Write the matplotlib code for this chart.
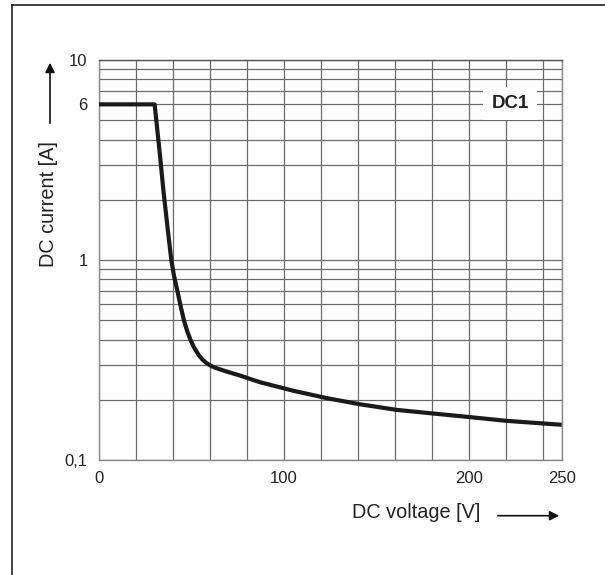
import matplotlib
matplotlib.use("Agg")
import matplotlib.pyplot as plt
from matplotlib.lines import Line2D
import numpy as np

plt.rcParams['font.family'] = ['Liberation Sans', 'DejaVu Sans']

# Data
voltage = [0, 30.2, 33, 35, 37, 39.2, 40.7, 42.5, 44.2, 46, 47.8, 49.5, 51.5, 54, 56, 58,
           60.5, 63, 69, 76, 87, 105, 123, 141, 161, 180, 200, 220, 250]
current = [6, 6, 3.4, 2.2, 1.5, 1.0, 0.83, 0.7, 0.59, 0.5, 0.44, 0.4, 0.365, 0.335, 0.318, 0.306,
           0.296, 0.289, 0.277, 0.265, 0.245, 0.222, 0.204, 0.19, 0.178, 0.171, 0.164, 0.157, 0.150]

x_ticks = [0, 100, 200, 250]
x_ticklabels = ['0', '100', '200', '250']
y_ticks = [0.1, 1, 6, 10]
y_ticklabels = ['0,1', '1', '6', '10']
x_grid = list(range(0, 250, 20)) + [250]
y_grid = [0.1 * k for k in range(1, 10)] + [float(k) for k in range(1, 11)]

W, H = 605, 575
fig = plt.figure(figsize=(W / 100, H / 100), dpi=100)
ax = fig.add_axes([98.7 / W, 1 - 460 / H, (561.7 - 98.7) / W, (460 - 60) / H])

ax.set_yscale('log')
ax.set_xlim(0, 250)
ax.set_ylim(0.1, 10)

for xv in x_grid:
    ax.axvline(xv, color='#6a6a6a', lw=0.9, zorder=1)
for yv in y_grid:
    ax.axhline(yv, color='#6a6a6a', lw=0.9, zorder=1)

ax.plot(voltage, current, color='#1a1a1a', lw=3.0, solid_capstyle='butt',
        solid_joinstyle='round', zorder=3)

ax.set_xticks(x_ticks)
ax.set_xticklabels(x_ticklabels)
ax.set_yticks(y_ticks)
ax.set_yticklabels(y_ticklabels)
ax.yaxis.set_minor_locator(matplotlib.ticker.NullLocator())
ax.tick_params(axis='both', length=0, labelsize=12, colors='#222222')
ax.tick_params(axis='x', pad=8)
ax.tick_params(axis='y', pad=8)

for s in ax.spines.values():
    s.set_color('#8a8a8a')
    s.set_linewidth(1.0)
ax.spines['top'].set_color('#555555')

ax.text(510 / W, 1 - 103.3 / H, 'DC1', transform=fig.transFigure, ha='center', va='center',
        fontsize=13.5, fontweight='bold', color='#222222', zorder=5,
        bbox=dict(facecolor='white', edgecolor='none', pad=6))

# axis labels
fig.text(48 / W, 1 - 204 / H, 'DC current [A]', rotation=90, ha='center', va='center',
         fontsize=14.3, color='#222222')
fig.text(416 / W, 1 - 513 / H, 'DC voltage [V]', ha='center', va='center',
         fontsize=14.3, color='#222222')

# arrows
fig.patches.append(matplotlib.patches.FancyArrowPatch(
    (50 / W, 1 - 126 / H), (50 / W, 1 - 60 / H), transform=fig.transFigure,
    arrowstyle='-|>', mutation_scale=14, color='#111111', lw=1.2))
fig.patches.append(matplotlib.patches.FancyArrowPatch(
    (495 / W, 1 - 515.7 / H), (562 / W, 1 - 515.7 / H), transform=fig.transFigure,
    arrowstyle='-|>', mutation_scale=14, color='#111111', lw=1.2))

# outer frame (top and left)
fig.add_artist(Line2D([12 / W, 1.0], [1 - 5.3 / H, 1 - 5.3 / H], transform=fig.transFigure,
                      color='#222222', lw=1.2))
fig.add_artist(Line2D([12 / W, 12 / W], [1 - 5.3 / H, 0.0], transform=fig.transFigure,
                      color='#222222', lw=1.2))

fig.savefig('out.png', dpi=100)
